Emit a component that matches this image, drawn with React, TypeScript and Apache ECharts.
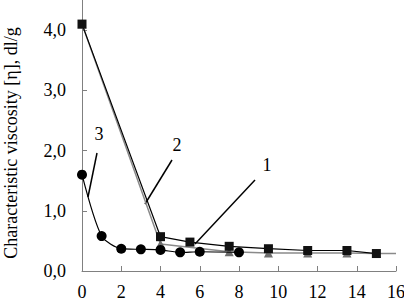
import React, { useEffect, useRef } from "react";
import * as echarts from "echarts";

// Series 1: black squares
const s1X = [0, 4, 5.5, 7.5, 9.5, 11.5, 13.5, 15];
const s1Y = [4.1, 0.57, 0.48, 0.41, 0.37, 0.34, 0.34, 0.29];
// Series 2: gray triangles
const s2X = [0, 4, 7.5, 9.5, 11.5, 13.5, 15, 16];
const s2Y = [4.1, 0.45, 0.32, 0.3, 0.3, 0.3, 0.29, 0.29];
// Series 3: black circles
const s3X = [0, 1, 2, 3, 4, 5, 6, 8];
const s3Y = [1.6, 0.58, 0.37, 0.36, 0.35, 0.31, 0.32, 0.31];

const yTicks = [0, 1, 2, 3, 4];
const yTitle = "Characteristic viscosity [\u03b7], dl/g";

const FONT = "'Liberation Serif', 'Times New Roman', serif";
const FS = 18;

function pairs(xs: number[], ys: number[]) {
  return xs.map((x, i) => [x, ys[i]]);
}

export default function App() {
  const ref = useRef<HTMLDivElement>(null);
  useEffect(() => {
    if (!ref.current) return;
    const chart = echarts.init(ref.current, null, { renderer: "svg" });
    const s2Data: any[] = pairs(s2X, s2Y).map((p, i) =>
      i === s2X.length - 1 ? { value: p, symbol: "none" } : p
    );
    const label = (t: string, x: number, y: number, rotation = 0) => ({
      type: "text",
      x,
      y,
      rotation,
      style: { text: t, fontFamily: FONT, fontSize: FS, fill: "#000", align: "center", verticalAlign: "middle" },
    });
    chart.setOption({
      animation: false,
      backgroundColor: "#ffffff",
      grid: { left: 82, right: 8, top: 0, bottom: 30, containLabel: false, outerBoundsMode: "none" },
      xAxis: {
        type: "value",
        min: 0,
        max: 16,
        interval: 2,
        splitLine: { show: false },
        axisLine: { lineStyle: { color: "#808080", width: 1 } },
        axisTick: { inside: true, length: 5, lineStyle: { color: "#808080" } },
        axisLabel: { margin: 12, lineHeight: 17, color: "#000", fontFamily: FONT, fontSize: FS },
      },
      yAxis: {
        type: "value",
        min: 0,
        max: 4.5,
        interval: 1,
        splitLine: { show: false },
        axisLine: { show: true, lineStyle: { color: "#808080", width: 1 } },
        axisTick: {
          show: true,
          inside: true,
          length: 5,
          lineStyle: { color: "#808080" },
          customValues: yTicks,
        },
        axisLabel: {
          margin: 16,
          color: "#000",
          fontFamily: FONT,
          fontSize: FS,
          customValues: yTicks,
          formatter: (v: number) => (v > 4.1 ? "" : v.toFixed(1).replace(".", ",")),
        },
      },
      series: [
        {
          name: "2",
          type: "line",
          data: s2Data,
          smooth: false,
          symbol: "triangle",
          symbolSize: 9,
          itemStyle: { color: "#6e6e6e" },
          lineStyle: { color: "#8a8a8a", width: 1.5 },
          z: 2,
        },
        {
          name: "3",
          type: "line",
          data: pairs(s3X, s3Y),
          smooth: 0.25,
          symbol: "circle",
          symbolSize: 10,
          itemStyle: { color: "#000" },
          lineStyle: { color: "#000", width: 1.2 },
          z: 3,
        },
        {
          name: "1",
          type: "line",
          data: pairs(s1X, s1Y),
          smooth: false,
          symbol: "rect",
          symbolSize: 9,
          itemStyle: { color: "#111" },
          lineStyle: { color: "#000", width: 1.2 },
          z: 4,
        },
      ],
      graphic: [
        { type: "line", shape: { x1: 97, y1: 153, x2: 88, y2: 197 }, style: { stroke: "#000", lineWidth: 1.5 } },
        { type: "line", shape: { x1: 172, y1: 160, x2: 145, y2: 204 }, style: { stroke: "#000", lineWidth: 1.5 } },
        { type: "line", shape: { x1: 255, y1: 180, x2: 195, y2: 244 }, style: { stroke: "#000", lineWidth: 1.5 } },
        label("3", 99, 134),
        label("2", 177, 145),
        label("1", 267, 165),
        label(yTitle, 11, 143, Math.PI / 2),
      ],
    });
    return () => chart.dispose();
  }, []);
  return (
    <div
      ref={ref}
      style={{ position: "fixed", left: 0, top: 0, width: 404, height: 301, background: "#fff" }}
    />
  );
}
